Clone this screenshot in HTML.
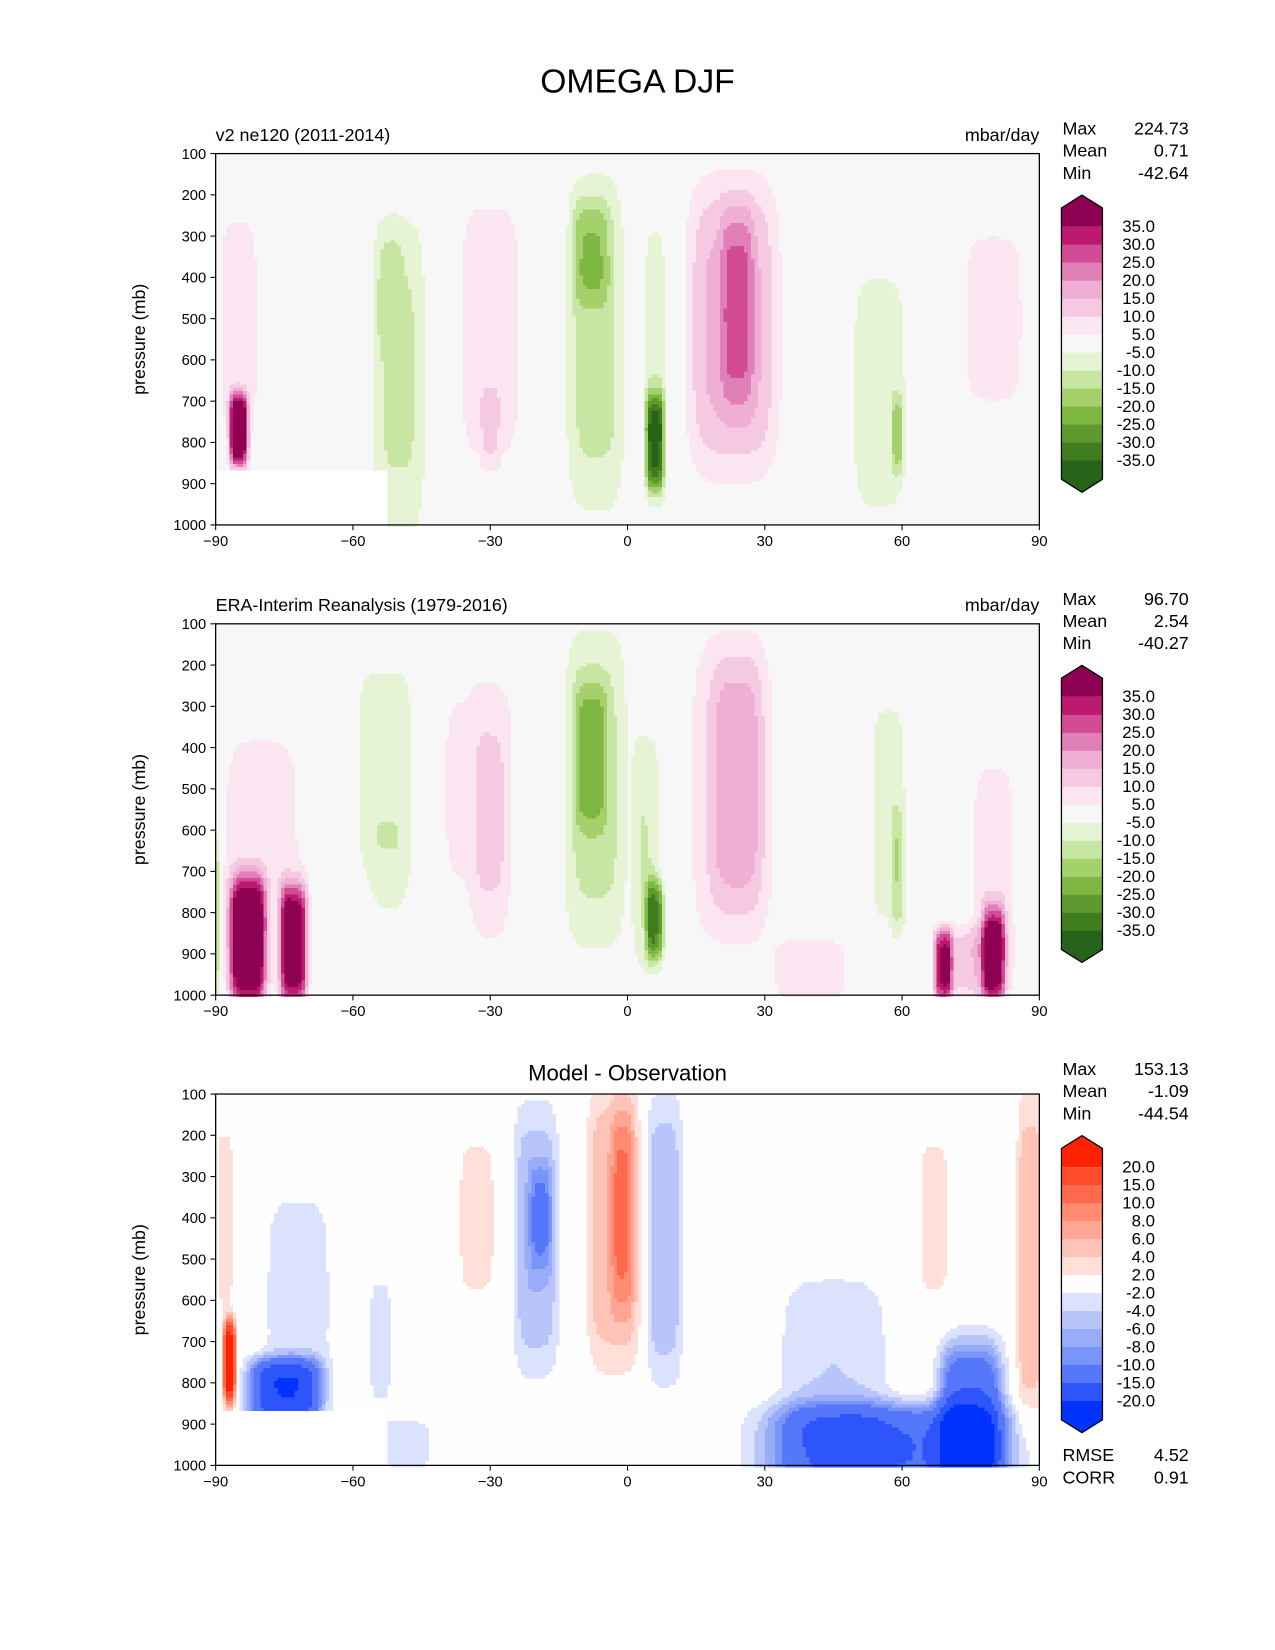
<!DOCTYPE html>
<html><head><meta charset="utf-8"><style>
html,body{margin:0;padding:0;background:#fff;}
svg{display:block;font-family:"Liberation Sans","DejaVu Sans",sans-serif;}
</style></head><body>
<svg id="fig" width="1275" height="1650" viewBox="0 0 1212 1568.5">
<text x="606" y="88" font-size="32" text-anchor="middle">OMEGA DJF</text>
</svg>
<script>
// ---- data: blob descriptions of each contour field ----
const p1Lat=[-7,-8,6,6,23,24,-30,-30,-50,-85,-85,55,59,80,-52];
const p1P=[560,340,600,800,520,470,530,770,640,770,520,680,780,500,420];
const p1W=[6.5,4,2.5,2,10,3.5,7,2,6,2,5,7,1.2,9,3];
const p1H=[420,130,350,120,360,240,340,90,400,90,330,360,100,300,150];
const p1Amp=[-12,-10,-9,-30,17,11,9,6,-11,42,7,-7,-12,6,-4];

const p2Lat=[-7,-8,6,4,23,24,-33,-30,-53,-52,-83,-73,-80,57,59,69,80,75,80,-90,40];
const p2P=[500,420,820,650,500,480,500,600,450,750,870,880,650,560,700,930,900,920,700,800,940];
const p2W=[7,3.5,2,3,9,5,10,4,7,5,4,3,10,4,1.5,2,2.5,8,5,1.2,8];
const p2H=[400,180,100,300,380,300,330,300,280,200,160,150,350,300,150,90,120,90,300,200,80];
const p2Amp=[-12,-13,-25,-10,12,8,6,6,-8,-4,45,40,7,-8,-8,30,30,12,8,-15,10];

const p3Lat=[-20,-19,-3,-1,8,-33,-75,-72,-87,57,75,45,88,67,-48,-88,-54];
const p3P=[450,400,420,380,450,400,820,600,750,960,900,780,500,400,950,400,700];
const p3W=[5,2.5,6,2.5,4,5,8,8,1.2,27,7,12,3,4,5,2,3];
const p3H=[330,130,350,250,350,250,80,300,100,110,200,250,400,250,60,250,200];
const p3Amp=[-6,-5,6,5,-6,2.5,-18,-3,25,-15,-15,-4,6,2.5,-4,3,-2.5];

const omegaLevels=[-35,-30,-25,-20,-15,-10,-5,5,10,15,20,25,30,35];
const omegaLabels=["35.0","30.0","25.0","20.0","15.0","10.0","5.0","-5.0","-10.0","-15.0","-20.0","-25.0","-30.0","-35.0"];
const diffLevels=[-20,-15,-10,-8,-6,-4,-2,2,4,6,8,10,15,20];
const diffLabels=["20.0","15.0","10.0","8.0","6.0","4.0","2.0","-2.0","-4.0","-6.0","-8.0","-10.0","-15.0","-20.0"];
const xTicks=[-90,-60,-30,0,30,60,90];
const yTicks=[100,200,300,400,500,600,700,800,900,1000];
const stats1=["224.73","0.71","-42.64"];
const stats2=["96.70","2.54","-40.27"];
const stats3=["153.13","-1.09","-44.54"];

const omegaColors=['#276419','#3f7d1f','#5e9a2f','#7fb743','#a5d16d','#c8e6a3','#e6f4d5','#f7f7f7','#fbe5f0','#f6c9e2','#efaed3','#e080b6','#d14c95','#bb1a6f','#8e0152'];
const diffColors=['#0033ff','#2e55fb','#5577f9','#7a95f9','#98acfa','#b7c5fb','#dae2fd','#fefefe','#ffe0d9','#ffc4b7','#ffa593','#ff8b73','#ff6a4f','#ff4a2c','#ff2200'];

const NS='http://www.w3.org/2000/svg';
const svg=document.getElementById('fig');
const X0=205,X1=988,PH=353;
function mk(tag,attrs,parent){const e=document.createElementNS(NS,tag);for(const k in attrs)e.setAttribute(k,attrs[k]);(parent||svg).appendChild(e);return e;}
function txt(x,y,s,size,anchor,parent){const t=mk('text',{x:x,y:y,'font-size':size,'text-anchor':anchor||'start'},parent);t.textContent=s;return t;}

function panel(idx,top,lat,pr,w,h,amp,levels,colors,labels,title,centerTitle,stats,mask,bg){
  const xs=v=>X0+(v+90)/180*(X1-X0);
  const ys=p=>top+(p-100)/900*PH;
  const g=mk('g',{});
  
  
  const bgr=mk('rect',{x:X0,y:top,width:X1-X0,height:PH,fill:bg},g);
  
  
  const field=(la,p)=>{let v=0;for(let i=0;i<lat.length;i++){const dx=(la-lat[i])/w[i],dy=(p-pr[i])/h[i];v+=amp[i]*Math.exp(-(dx*dx*dx*dx+dy*dy*dy*dy));}return v;};
  const ci=v=>{let k=0;while(k<levels.length&&v>=levels[k])k++;return k;};
  const zero=ci(0);
  const cg=mk('g',{'shape-rendering':'crispEdges'},g);
  
  
  const dl=0.75,dp=8;
  for(let p=100;p<1000;p+=dp){
    let runStart=-90,runC=null;
    for(let la=-90;la<=90+1e-9;la+=dl){
      let c=(la<90)?ci(field(la+dl/2,p+dp/2)):-1;
      if(mask&&la<-53&&p+dp/2>870&&la<90)c=-2;
      if(runC===null){runC=c;runStart=la;continue;}
      if(c!==runC){
        if(runC!==zero){
          const col=runC===-2?'#ffffff':colors[runC];
          mk('rect',{x:xs(runStart),y:ys(p),width:xs(la)-xs(runStart)+0.4,height:ys(p+dp)-ys(p)+0.4,fill:col},cg);
        }
        runC=c;runStart=la;
      }
    }
  }
  mk('rect',{x:X0,y:top,width:X1-X0,height:PH,fill:'none',stroke:'#000','stroke-width':1.2},g);
  for(const t of xTicks){const x=xs(t);mk('line',{x1:x,x2:x,y1:top+PH,y2:top+PH+5,stroke:'#000'},g);const l=txt(x,top+PH+20,(t<0?'\u2212'+(-t):''+t),14,'middle',g);}
  for(const t of yTicks){const y=ys(t);mk('line',{x1:X0-5,x2:X0,y1:y,y2:y,stroke:'#000'},g);const l=txt(X0-9,y+5,''+t,14,'end',g);}
  const yl=txt(0,0,'pressure (mb)',17,'middle',g);yl.setAttribute('transform','translate(138,'+(top+PH/2)+') rotate(-90)');
  
  if(centerTitle){const t=txt((X0+X1)/2,top-13,title,21,'middle',g);}
  else{const t=txt(X0,top-12,title,17,'start',g);
    const u=txt(X1,top-12,'mbar/day',17,'end',g);}
  const names=['Max','Mean','Min'];
  for(let i=0;i<3;i++){const a=txt(1010,top-18+i*21,names[i],17,'start',g);
    const b=txt(1130,top-18+i*21,stats[i],17,'end',g);}
  // colorbar
  const cb=mk('g',{},g);
  const cx0=1009,cx1=1048,tipT=top+39.5,sh=top+51.7,bh=17.1,b0=top+69.5;
  const nb=levels.length-1,bEnd=b0+nb*bh,botSh=bEnd+17.8,tipB=botSh+12.3;
  mk('polygon',{points:`${cx0},${b0} ${cx0},${sh} ${(cx0+cx1)/2},${tipT} ${cx1},${sh} ${cx1},${b0}`,fill:colors[colors.length-1]},cb);
  for(let i=0;i<nb;i++){mk('rect',{x:cx0,y:b0+i*bh,width:cx1-cx0,height:bh+0.5,fill:colors[colors.length-2-i]},cb);}
  mk('polygon',{points:`${cx0},${bEnd} ${cx0},${botSh} ${(cx0+cx1)/2},${tipB} ${cx1},${botSh} ${cx1},${bEnd}`,fill:colors[0]},cb);
  mk('polygon',{points:`${cx0},${sh} ${(cx0+cx1)/2},${tipT} ${cx1},${sh} ${cx1},${botSh} ${(cx0+cx1)/2},${tipB} ${cx0},${botSh}`,fill:'none',stroke:'#000','stroke-width':1.2},cb);
  for(let i=0;i<labels.length;i++){const l=txt(1098,b0+i*bh+5,labels[i],16,'end',cb);}
}
panel(1,146,p1Lat,p1P,p1W,p1H,p1Amp,omegaLevels,omegaColors,omegaLabels,'v2 ne120 (2011-2014)',false,stats1,true,'#f7f7f7');
panel(2,593,p2Lat,p2P,p2W,p2H,p2Amp,omegaLevels,omegaColors,omegaLabels,'ERA-Interim Reanalysis (1979-2016)',false,stats2,false,'#f7f7f7');
panel(3,1040,p3Lat,p3P,p3W,p3H,p3Amp,diffLevels,diffColors,diffLabels,'Model - Observation',true,stats3,true,'#fefefe');
const r1=txt(1010,1389,'RMSE',17);
const r2=txt(1130,1389,'4.52',17,'end');
const c1=txt(1010,1410,'CORR',17);
const c2=txt(1130,1410,'0.91',17,'end');
</script>
</body></html>
